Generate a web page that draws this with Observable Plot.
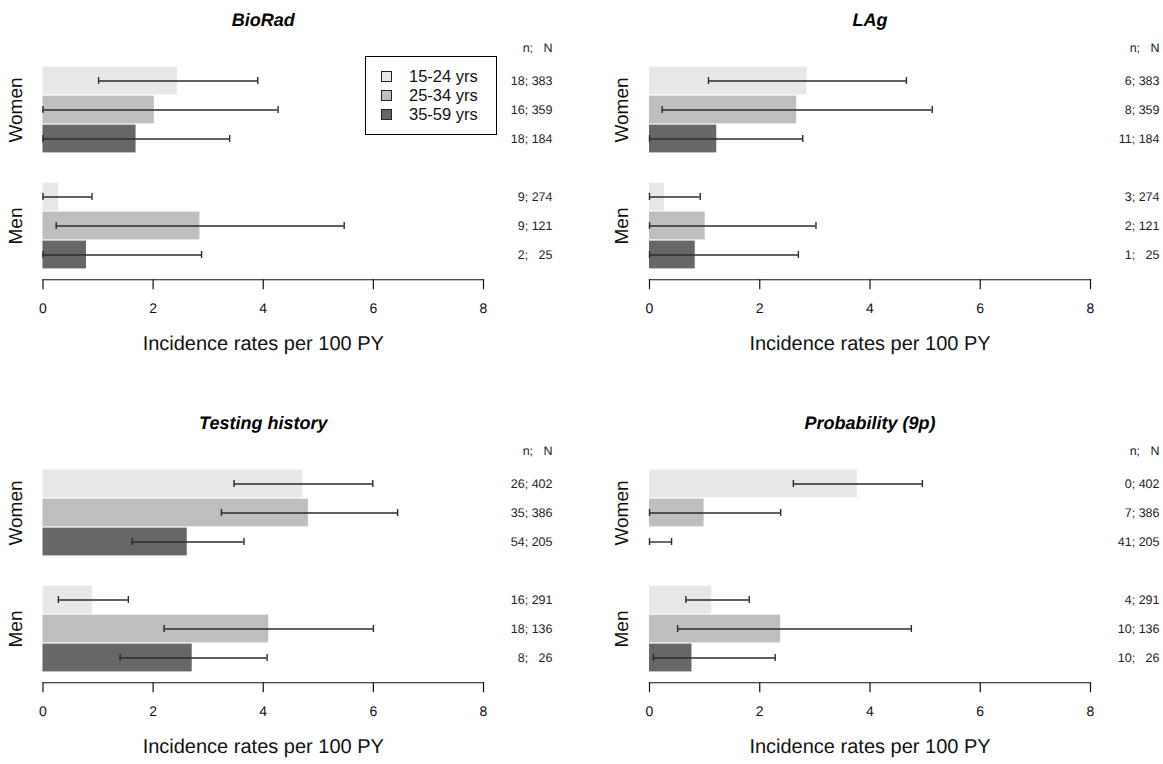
<!DOCTYPE html>
<html>
<head>
<meta charset="utf-8">
<script src="https://cdn.jsdelivr.net/npm/d3@7"></script>
<script src="https://cdn.jsdelivr.net/npm/@observablehq/plot@0.6"></script>
<style>
  html, body { margin: 0; padding: 0; background: #fff; }
  #root { position: relative; width: 1163px; height: 764px; overflow: hidden; font-family: "Liberation Sans", Arial, sans-serif; }
  .panel { position: absolute; }
  .panel svg { text-rendering: geometricPrecision; }
  .legend { position: absolute; border: 1px solid #000; background: #fff; box-sizing: border-box; padding: 10px 0 0 15px; }
  .legend .item { display: flex; align-items: center; height: 19px; font-size: 16.5px; color: #111; }
  .legend .sw { width: 9px; height: 9px; border: 1px solid #222; margin-right: 17px; }
</style>
</head>
<body>
<div id="root"></div>
<script>
// ---- data ----
const panelTitles = ["BioRad", "LAg", "Testing history", "Probability (9p)"];
const sexes = ["Women", "Women", "Women", "Men", "Men", "Men"];
const ageGroups = ["15-24 yrs", "25-34 yrs", "35-59 yrs", "15-24 yrs", "25-34 yrs", "35-59 yrs"];
const slots = ["W1", "W2", "W3", "M1", "M2", "M3"];
const ageLegend = ["15-24 yrs", "25-34 yrs", "35-59 yrs"];
const ageColors = ["#e6e7e6", "#bebebe", "#676767"];
const xTicks = [0, 2, 4, 6, 8];
const xLabel = "Incidence rates per 100 PY";

const rateBioRad = [2.44, 2.02, 1.69, 0.28, 2.85, 0.79];
const loBioRad   = [1.01, 0.00, 0.00, 0.00, 0.24, 0.00];
const hiBioRad   = [3.90, 4.27, 3.39, 0.89, 5.47, 2.88];
const nBioRad    = [18, 16, 18, 9, 9, 2];
const NBioRad    = [383, 359, 184, 274, 121, 25];

const rateLAg = [2.86, 2.67, 1.22, 0.27, 1.01, 0.83];
const loLAg   = [1.07, 0.23, 0.00, 0.00, 0.00, 0.00];
const hiLAg   = [4.66, 5.13, 2.78, 0.92, 3.02, 2.70];
const nLAg    = [6, 8, 11, 3, 2, 1];
const NLAg    = [383, 359, 184, 274, 121, 25];

const rateTesting = [4.72, 4.82, 2.62, 0.90, 4.10, 2.71];
const loTesting   = [3.47, 3.24, 1.62, 0.28, 2.20, 1.40];
const hiTesting   = [5.99, 6.44, 3.65, 1.55, 6.00, 4.07];
const nTesting    = [26, 35, 54, 16, 18, 8];
const NTesting    = [402, 386, 205, 291, 136, 26];

const rateProb = [3.77, 0.99, 0.00, 1.13, 2.38, 0.77];
const loProb   = [2.61, 0.00, 0.00, 0.66, 0.51, 0.07];
const hiProb   = [4.95, 2.38, 0.40, 1.81, 4.75, 2.28];
const nProb    = [0, 7, 41, 4, 10, 10];
const NProb    = [402, 386, 205, 291, 136, 26];

const panelData = [
  [rateBioRad, loBioRad, hiBioRad, nBioRad, NBioRad],
  [rateLAg, loLAg, hiLAg, nLAg, NLAg],
  [rateTesting, loTesting, hiTesting, nTesting, NTesting],
  [rateProb, loProb, hiProb, nProb, NProb]
];

// ---- layout ----
const FONT = "'Liberation Sans', Arial, sans-serif";
const panelPos = [
  {left: 0, top: 0, width: 581, mL: 42.5, mR: 98},
  {left: 581, top: 0, width: 582, mL: 68, mR: 73},
  {left: 0, top: 403, width: 581, mL: 42.5, mR: 98},
  {left: 581, top: 403, width: 582, mL: 68, mR: 73}
];
const H = 361;
const pitch = 29.5;
const barTop = 64.5;
const bandStart = barTop - pitch;
const bandEnd = barTop + 7 * pitch;
const axisY = bandEnd + 0.28 * pitch;
const root = document.getElementById("root");

panelTitles.forEach((title, p) => {
  const [rate, lo, hi, n, N] = panelData[p];
  const rows = slots.map((s, i) => ({
    slot: s, sex: sexes[i], age: ageGroups[i],
    rate: rate[i], lo: lo[i], hi: hi[i],
    label: `${n[i]}; ${N[i] < 100 ? "\u00a0\u00a0" : ""}${N[i]}`
  }));
  const pos = panelPos[p];
  const chart = Plot.plot({
    width: pos.width,
    height: H,
    marginLeft: pos.mL,
    marginRight: pos.mR,
    marginTop: 36,
    marginBottom: H - axisY,
    style: {fontFamily: FONT, background: "transparent", overflow: "visible"},
    x: {domain: [0, 8], axis: null},
    y: {type: "band", domain: ["hdr", "W1", "W2", "W3", "gap", "M1", "M2", "M3"], range: [bandStart, bandEnd], padding: 0, axis: null},
    color: {domain: ageLegend, range: ageColors},
    marks: [
      Plot.barX(rows, {x: "rate", y: "slot", fill: "age", insetTop: 0.6, insetBottom: 0.6}),
      Plot.ruleY(rows, {y: "slot", x1: "lo", x2: "hi", stroke: "#2b2b2b", strokeWidth: 1.4}),
      Plot.tickX(rows, {x: "lo", y: "slot", stroke: "#2b2b2b", strokeWidth: 1.4, insetTop: 11, insetBottom: 11}),
      Plot.tickX(rows, {x: "hi", y: "slot", stroke: "#2b2b2b", strokeWidth: 1.4, insetTop: 11, insetBottom: 11}),
      Plot.text(rows, {y: "slot", text: "label", frameAnchor: "right", textAnchor: "end", dx: 69, fontSize: 12.5, fill: "#222", opacity: 0.999}),
      Plot.text(["n;\u00a0\u00a0\u00a0N"], {y: () => "hdr", frameAnchor: "right", textAnchor: "end", dx: 69, dy: -4, fontSize: 12.5, fill: "#222", opacity: 0.999}),
      Plot.text(["Women", "Men"], {y: (d) => d === "Women" ? "W2" : "M2", text: (d) => d, frameAnchor: "left", dx: -27.5, rotate: -90, textAnchor: "middle", fontSize: 19, fill: "#111"}),
      Plot.frame({anchor: "bottom", stroke: "#111", strokeWidth: 1.2}),
      Plot.axisX({ticks: xTicks, tickSize: 10, tickPadding: 13, fontSize: 14, label: null, stroke: "#111", strokeWidth: 1.2, fill: "#111"}),
      Plot.text([xLabel], {frameAnchor: "bottom", dy: 70, fontSize: 20, fill: "#111"}),
      Plot.text([title], {frameAnchor: "top", dy: -23, fontSize: 18, fontWeight: "bold", fontStyle: "italic", fill: "#000"})
    ]
  });
  const wrap = document.createElement("div");
  wrap.className = "panel";
  wrap.style.left = pos.left + "px";
  wrap.style.top = pos.top + "px";
  wrap.appendChild(chart);
  root.appendChild(wrap);
});

// legend in first panel
const legend = document.createElement("div");
legend.className = "legend";
legend.style.left = "365px";
legend.style.top = "56px";
legend.style.width = "132px";
legend.style.height = "79px";
ageLegend.forEach((a, i) => {
  const it = document.createElement("div");
  it.className = "item";
  const sw = document.createElement("span");
  sw.className = "sw";
  sw.style.background = ageColors[i];
  const tx = document.createElement("span");
  tx.textContent = a;
  it.appendChild(sw);
  it.appendChild(tx);
  legend.appendChild(it);
});
root.appendChild(legend);
</script>
</body>
</html>
